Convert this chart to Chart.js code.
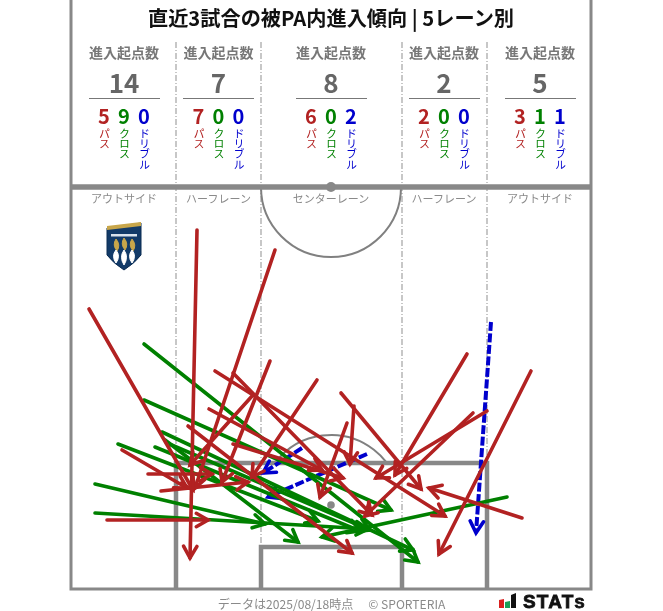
<!DOCTYPE html>
<html lang="ja">
<head>
<meta charset="utf-8">
<title>直近3試合の被PA内進入傾向</title>
<script src="https://cdn.jsdelivr.net/npm/chart.js@4"></script>
<style>
html,body{margin:0;padding:0;background:#fff;width:663px;height:611px;overflow:hidden}
body{position:relative;font-family:"Noto Sans CJK JP","Noto Sans",sans-serif}
canvas{position:absolute;left:0;top:0}
.t{position:absolute;white-space:nowrap;transform:translate(-50%,-50%);line-height:1}
.v{position:absolute;writing-mode:vertical-rl;transform:translateX(-50%);line-height:1;white-space:nowrap;top:128px;font-size:11px;letter-spacing:-.6px}
.r{position:absolute;top:98px;height:1px;width:71px;background:#777}
</style>
</head>
<body>
<canvas id="c" width="663" height="611"></canvas>
<svg style="position:absolute;left:105px;top:221px" width="38" height="50" viewBox="0 0 38 50">
  <path d="M2 7 L36 2 V34 Q30 42 19 49 Q8 42 2 34 Z" fill="#123a68" stroke="#0b2c52"/>
  <path d="M2 5 L36 1 V5 L2 9 Z" fill="#c8a64a"/>
  <rect x="6" y="13" width="26" height="2.5" fill="#d9e2ec"/>
  <path d="M11 18 q5 6 1 12 q-5 -6 -1 -12 M19 17 q5 6 1 12 q-5 -6 -1 -12 M27 18 q5 6 1 12 q-5 -6 -1 -12" fill="#c8a64a" stroke="#c8a64a"/>
  <path d="M11 29 q5 6 0 13 q-5 -7 0 -13 M19 29 q5 7 0 15 q-5 -8 0 -15 M27 29 q5 6 0 13 q-5 -7 0 -13" fill="#fff" stroke="#fff"/>
</svg>
<svg style="position:absolute;left:498px;top:591px" width="92" height="20" viewBox="0 0 92 20">
  <path d="M1 9 L6 8 V17 H1 Z" fill="#d9201f"/>
  <path d="M7 11 L12 10 V17 H7 Z" fill="#18a058"/>
  <path d="M13 4 L18 2 V17 H13 Z" fill="#111"/>
  <text x="25" y="16.5" font-family="Liberation Sans" font-weight="700" font-size="19" letter-spacing="1.2" fill="#111" stroke="#111" stroke-width=".8">STAT<tspan font-size="15">S</tspan></text>
</svg>
<script>
// Lanes, left to right
const lanes = ["アウトサイド", "ハーフレーン", "センターレーン", "ハーフレーン", "アウトサイド"];
const laneCentres = [53, 147.5, 260, 373, 469];
const totals = [14, 7, 8, 2, 5];
const passCounts = [5, 7, 6, 2, 3];
const crossCounts = [9, 0, 0, 0, 1];
const dribbleCounts = [0, 0, 2, 0, 1];

// Arrows in pitch units (x across, y up from goal line): fromX, fromY, toX, toY
const passX0 = [18,126,204,199,246,162,144,117,270,283,276,396,416,402,460,451,36,51,77,90,138,162,182];
const passY0 = [280,359,339,228,209,216,218,163,196,183,166,235,178,176,218,71,69,139,115,98,180,145,194];
const passX1 = [122,119,124,151,181,301,374,281,350,279,249,324,305,294,368,358,137,116,141,177,251,272,119];
const passY1 = [99,31,101,107,112,74,73,36,100,125,92,114,111,73,35,101,69,101,115,107,119,111,124];
const crossX0 = [73,73,436,24,24,47,84,91,94,96];
const crossY0 = [245,189,92,105,76,145,142,157,149,146];
const crossX1 = [347,320,251,194,297,247,289,342,227,299];
const crossY1 = [27,79,52,65,60,68,58,39,47,59];
const dribbleX0 = [231,296,420];
const dribbleY0 = [141,135,267];
const dribbleX1 = [192,197,405];
const dribbleY1 = [116,92,56];

const passColor = "#b22222", crossColor = "#008000", dribbleColor = "#0000cd";
const lineGray = "#888888", textGray = "#8a8a8a";

function addText(txt, x, y, size, color, weight) {
  const s = document.createElement("div");
  s.className = "t";
  s.textContent = txt;
  s.style.cssText = `left:${x}px;top:${y}px;font-size:${size}px;color:${color};font-weight:${weight || 400}`;
  document.body.appendChild(s);
}
function addVertical(txt, x, color) {
  const s = document.createElement("div");
  s.className = "v";
  s.textContent = txt;
  s.style.left = x + "px";
  s.style.color = color;
  document.body.appendChild(s);
}

addText("直近3試合の被PA内進入傾向 | 5レーン別", 331, 18, 20.2, "#111", 700);
addText("データは2025/08/18時点 　© SPORTERIA", 331.5, 604, 12.1, textGray);
lanes.forEach((lane, i) => {
  const cx = 71 + laneCentres[i];
  addText("進入起点数", cx, 52, 14, "#777", 700);
  addText(String(totals[i]), cx, 82, 26, "#666", 700);
  const r = document.createElement("div");
  r.className = "r";
  r.style.left = (cx - 35.5) + "px";
  document.body.appendChild(r);
  addText(String(passCounts[i]), cx - 20, 116, 20, passColor, 700);
  addText(String(crossCounts[i]), cx, 116, 20, crossColor, 700);
  addText(String(dribbleCounts[i]), cx + 20, 116, 20, dribbleColor, 700);
  addVertical("パス", cx - 20, passColor);
  addVertical("クロス", cx, crossColor);
  addVertical("ドリブル", cx + 20, dribbleColor);
  addText(lane, cx, 198, 11, textGray);
});

function arrows(x0, y0, x1, y1, color, dash) {
  return x0.map((_, i) => ({
    data: [{x: x0[i], y: y0[i]}, {x: x1[i], y: y1[i]}],
    borderColor: color,
    borderWidth: dash ? 4 : 3.6,
    borderDash: dash || [],
    borderCapStyle: dash ? "butt" : "round",
    pointRadius: 0,
    tension: 0,
    clip: false,
    showLine: true
  }));
}

const pitchPlugin = {
  id: "pitch",
  beforeDatasetsDraw(chart) {
    const {ctx, scales: {x, y}} = chart;
    const X = v => x.getPixelForValue(v), Y = v => y.getPixelForValue(v);
    const seg = (pts, w, col, dash) => {
      ctx.beginPath();
      pts.forEach((p, i) => i ? ctx.lineTo(X(p[0]), Y(p[1])) : ctx.moveTo(X(p[0]), Y(p[1])));
      ctx.lineWidth = w; ctx.strokeStyle = col; ctx.setLineDash(dash || []); ctx.stroke();
      ctx.setLineDash([]);
    };
    ctx.save();
    // lane dividers
    [105, 190, 331, 416].forEach(v => seg([[v, 547], [v, 0]], 1, "#8f8f8f", [6, 2, 1, 2]));
    // arcs
    const unit = X(1) - X(0);
    ctx.strokeStyle = "#808080"; ctx.lineWidth = 2;
    ctx.beginPath(); ctx.arc(X(260), Y(402), 70 * unit, 0, Math.PI); ctx.stroke();
    ctx.beginPath(); ctx.arc(X(260), Y(84), 70 * unit, Math.PI * 1.21, Math.PI * 1.79); ctx.stroke();
    // spots
    ctx.fillStyle = lineGray;
    ctx.beginPath(); ctx.arc(X(260), Y(402), 5, 0, 7); ctx.fill();
    ctx.beginPath(); ctx.arc(X(260), Y(84), 3.8, 0, 7); ctx.fill();
    // boxes
    seg([[105, 0], [105, 126], [416, 126], [416, 0]], 4.5, lineGray);
    seg([[190, 0], [190, 42], [331, 42], [331, 0]], 4.5, lineGray);
    // frame
    seg([[0, 589], [0, 0], [520, 0], [520, 589]], 3, lineGray);
    seg([[0, 402], [520, 402]], 5.5, lineGray);
    ctx.restore();
  },
  afterDatasetDraw(chart, args) {
    const ds = chart.data.datasets[args.index];
    const {ctx, scales: {x, y}} = chart;
    const [a, b] = ds.data;
    const ax = x.getPixelForValue(a.x), ay = y.getPixelForValue(a.y);
    const bx = x.getPixelForValue(b.x), by = y.getPixelForValue(b.y);
    const ang = Math.atan2(by - ay, bx - ax), len = 13.5, spread = 0.52;
    ctx.save();
    ctx.strokeStyle = ds.borderColor;
    ctx.lineWidth = 3.6;
    ctx.lineCap = "round";
    ctx.lineJoin = "miter";
    ctx.beginPath();
    ctx.moveTo(bx - len * Math.cos(ang - spread), by - len * Math.sin(ang - spread));
    ctx.lineTo(bx, by);
    ctx.lineTo(bx - len * Math.cos(ang + spread), by - len * Math.sin(ang + spread));
    ctx.stroke();
    ctx.restore();
  }
};

new Chart(document.getElementById("c"), {
  type: "scatter",
  data: {
    // Later datasets paint on top: passes, then crosses, then dribbles
    datasets: [
      ...arrows(passX0, passY0, passX1, passY1, passColor),
      ...arrows(crossX0, crossY0, crossX1, crossY1, crossColor),
      ...arrows(dribbleX0, dribbleY0, dribbleX1, dribbleY1, dribbleColor, [9, 2.5])
    ]
  },
  options: {
    responsive: false,
    animation: false,
    devicePixelRatio: 1,
    layout: {padding: {left: 71, right: 72, top: 187, bottom: 22}},
    plugins: {legend: {display: false}, tooltip: {enabled: false}, title: {display: false}},
    scales: {
      x: {type: "linear", min: 0, max: 520, display: false},
      y: {type: "linear", min: 0, max: 402, display: false}
    }
  },
  plugins: [pitchPlugin]
});
</script>
</body>
</html>
